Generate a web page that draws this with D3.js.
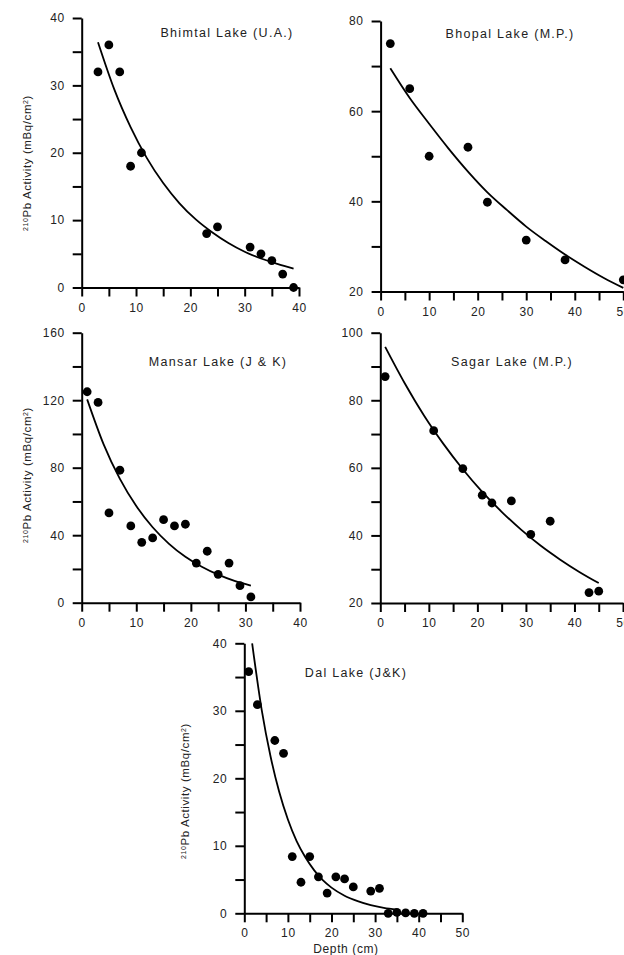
<!DOCTYPE html>
<html>
<head>
<meta charset="utf-8">
<script src="https://cdn.jsdelivr.net/npm/d3@7"></script>
<style>
  html, body { margin: 0; padding: 0; background: #fff; }
  svg { display: block; font-family: "Liberation Sans", Arial, sans-serif; }
</style>
</head>
<body>
<div id="chart"></div>
<script>
// ---------- Data ----------
// Bhimtal Lake (U.A.)
const bhimtalDepth    = [3, 5, 7, 9, 11, 23, 25, 31, 33, 35, 37, 39];
const bhimtalActivity = [32, 36, 32, 18, 20, 8, 9, 6, 5, 4, 2, 0];
const bhimtalFitDepth = [3, 6, 9, 12, 15, 18, 21, 24, 27, 30, 33, 36, 39];
const bhimtalFit      = [36.4, 29.4, 23.8, 19.2, 15.5, 12.5, 10.1, 8.2, 6.6, 5.3, 4.3, 3.5, 2.8];

// Bhopal Lake (M.P.)
const bhopalDepth    = [2, 6, 10, 18, 22, 30, 38, 50];
const bhopalActivity = [75, 65, 50, 52, 39.8, 31.4, 27, 22.6];
const bhopalFitDepth = [2, 6, 10, 14, 18, 22, 26, 30, 34, 38, 42, 46, 50];
const bhopalFit      = [69.5, 62.9, 57.2, 51.7, 46.6, 42.0, 38.1, 34.4, 31.2, 28.2, 25.5, 23.0, 20.8];

// Mansar Lake (J & K)
const mansarDepth    = [1, 3, 5, 7, 9, 11, 13, 15, 17, 19, 21, 23, 25, 27, 29, 31];
const mansarActivity = [125, 118.7, 53.2, 78.5, 45.5, 35.8, 38.4, 49.2, 45.5, 46.5, 23.5, 30.5, 16.8, 23.5, 10.1, 3.4];
const mansarFitDepth = [1, 4, 7, 10, 13, 16, 19, 22, 25, 28, 31];
const mansarFit      = [120.5, 94.0, 73.4, 57.3, 44.7, 34.9, 27.2, 21.3, 16.6, 12.9, 10.1];

// Sagar Lake (M.P.)
const sagarDepth    = [1, 11, 17, 21, 23, 27, 31, 35, 43, 45];
const sagarActivity = [87, 71, 59.8, 51.9, 49.6, 50.2, 40.3, 44.2, 23.1, 23.5];
const sagarFitDepth = [1, 5, 9, 13, 17, 21, 25, 29, 33, 37, 41, 45];
const sagarFit      = [95.8, 85.1, 75.5, 67.1, 59.6, 52.9, 47.0, 41.7, 37.0, 32.9, 29.2, 25.9];

// Dal Lake (J&K)
const dalDepth    = [1, 3, 7, 9, 11, 13, 15, 17, 19, 21, 23, 25, 29, 31, 33, 35, 37, 39, 41];
const dalActivity = [35.8, 30.9, 25.6, 23.7, 8.4, 4.6, 8.4, 5.4, 3.0, 5.4, 5.1, 3.9, 3.3, 3.7, 0, 0.15, 0.05, 0, 0];
const dalFitDepth = [1.8, 4, 6, 8, 10, 12, 14, 16, 18, 20, 23, 26, 29, 32, 35];
const dalFit      = [40, 30.1, 23.3, 18.0, 13.9, 10.7, 8.3, 6.4, 4.9, 3.8, 2.6, 1.8, 1.2, 0.81, 0.55];

// Titles and axis labels
const titles = ["Bhimtal Lake (U.A.)", "Bhopal Lake (M.P.)", "Mansar Lake (J & K)", "Sagar Lake (M.P.)", "Dal Lake (J&K)"];
const xLabel = "Depth (cm)";

// ---------- Layout ----------
const W = 624, H = 955;
const svg = d3.select("#chart").append("svg").attr("width", W).attr("height", H);

const panels = [
  { title: titles[0], depth: bhimtalDepth, act: bhimtalActivity, fx: bhimtalFitDepth, fy: bhimtalFit,
    x0: 81.7, x1: 299, yTop: 18, yBot: 287.5, xMax: 40, yMin: 0, yMax: 40, yMinor: 5, yMajor: 10,
    titleX: 227, titleY: 37, yLab: true, labX: 27, labY: 163, xLab: false },
  { title: titles[1], depth: bhopalDepth, act: bhopalActivity, fx: bhopalFitDepth, fy: bhopalFit,
    x0: 380.6, x1: 623.3, yTop: 21, yBot: 291.5, xMax: 50, yMin: 20, yMax: 80, yMinor: 10, yMajor: 20,
    titleX: 510, titleY: 38, yLab: false, xLab: false },
  { title: titles[2], depth: mansarDepth, act: mansarActivity, fx: mansarFitDepth, fy: mansarFit,
    x0: 81.7, x1: 300, yTop: 332.7, yBot: 602.7, xMax: 40, yMin: 0, yMax: 160, yMinor: 20, yMajor: 40,
    titleX: 218, titleY: 366, yLab: true, labX: 27, labY: 475, xLab: false },
  { title: titles[3], depth: sagarDepth, act: sagarActivity, fx: sagarFitDepth, fy: sagarFit,
    x0: 380.3, x1: 623, yTop: 332.7, yBot: 603, xMax: 50, yMin: 20, yMax: 100, yMinor: 10, yMajor: 20,
    titleX: 512, titleY: 366, yLab: false, xLab: false },
  { title: titles[4], depth: dalDepth, act: dalActivity, fx: dalFitDepth, fy: dalFit,
    x0: 244.3, x1: 462.3, yTop: 643.3, yBot: 913.3, xMax: 50, yMin: 0, yMax: 40, yMinor: 5, yMajor: 10,
    titleX: 356, titleY: 677, yLab: true, labX: 185, labY: 791, xLab: true, xLabX: 346, xLabY: 953 }
];

const textColor = "#222";

panels.forEach(p => {
  const x = d3.scaleLinear().domain([0, p.xMax]).range([p.x0, p.x1]);
  const y = d3.scaleLinear().domain([p.yMin, p.yMax]).range([p.yBot, p.yTop]);
  const g = svg.append("g");

  // X axis
  const xTicks = d3.range(0, p.xMax + 0.001, 5);
  const xAxis = d3.axisBottom(x).tickValues(xTicks).tickSize(9).tickSizeOuter(0).tickPadding(6.5)
    .tickFormat(d => d % 10 === 0 ? d : "");
  const gx = g.append("g").attr("transform", `translate(0,${p.yBot})`).call(xAxis);

  // Y axis
  const yTicks = d3.range(p.yMin, p.yMax + 0.001, p.yMinor);
  const yAxis = d3.axisLeft(y).tickValues(yTicks).tickSize(9).tickSizeOuter(0).tickPadding(8)
    .tickFormat(d => (d - p.yMin) % p.yMajor === 0 ? d : "");
  const gy = g.append("g").attr("transform", `translate(${p.x0},0)`).call(yAxis);

  [gx, gy].forEach(a => {
    a.select(".domain").attr("stroke", "#000").attr("stroke-width", 2);
    a.selectAll(".tick line").attr("stroke", "#000").attr("stroke-width", 2);
    a.selectAll(".tick text").attr("fill", textColor).style("font-size", "12px")
      .style("letter-spacing", "0.6px").style("font-family", "'Liberation Sans', Arial, sans-serif");
  });

  // Fit curve
  const line = d3.line().x(d => x(d[0])).y(d => y(d[1])).curve(d3.curveMonotoneX);
  g.append("path").datum(p.fx.map((d, i) => [d, p.fy[i]]))
    .attr("d", line).attr("fill", "none").attr("stroke", "#000").attr("stroke-width", 1.8);

  // Points
  g.selectAll("circle.pt").data(p.depth.map((d, i) => [d, p.act[i]])).enter()
    .append("circle").attr("class", "pt")
    .attr("cx", d => x(d[0])).attr("cy", d => y(d[1])).attr("r", 4.4).attr("fill", "#000");

  // Title
  g.append("text").attr("x", p.titleX).attr("y", p.titleY).attr("text-anchor", "middle")
    .attr("fill", textColor).style("font-size", "12.5px").style("letter-spacing", "1.3px")
    .text(p.title);

  // Y label
  if (p.yLab) {
    const t = g.append("text").attr("transform", `translate(${p.labX + 4},${p.labY}) rotate(-90)`)
      .attr("text-anchor", "middle").attr("fill", textColor)
      .style("font-size", "11.5px").style("letter-spacing", "0.6px");
    t.append("tspan").attr("baseline-shift", "super").style("font-size", "7px").text("210");
    t.append("tspan").text("Pb Activity (mBq/cm");
    t.append("tspan").attr("baseline-shift", "super").style("font-size", "7px").text("2");
    t.append("tspan").text(")");
  }

  // X label
  if (p.xLab) {
    g.append("text").attr("x", p.xLabX).attr("y", p.xLabY).attr("text-anchor", "middle")
      .attr("fill", textColor).style("font-size", "12px").style("letter-spacing", "0.6px")
      .text(xLabel);
  }
});
</script>
</body>
</html>
